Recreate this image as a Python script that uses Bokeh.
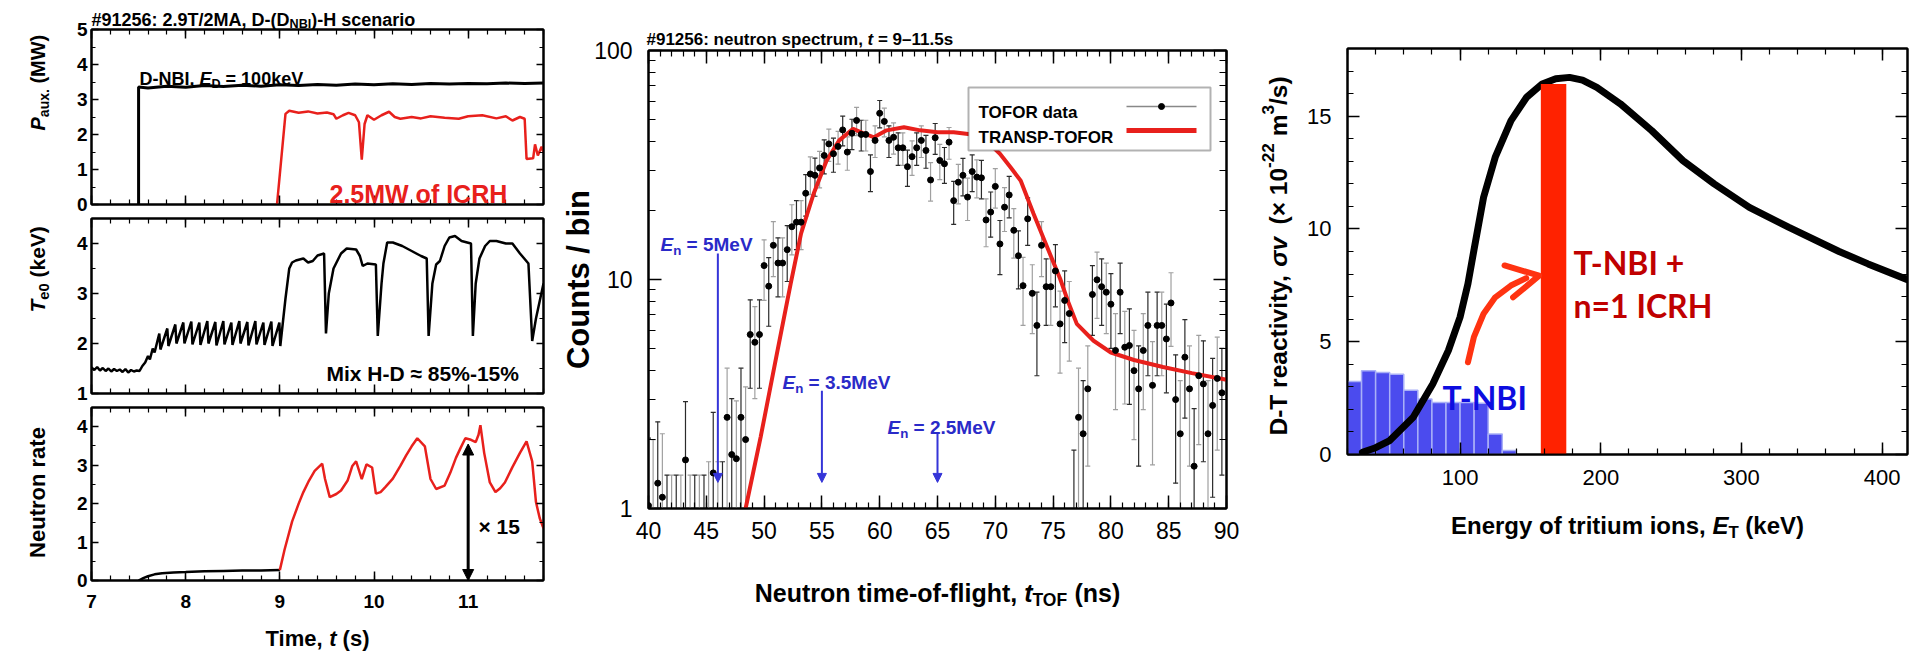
import math
from bokeh.plotting import figure
from bokeh.models import (LinearAxis, LogAxis, FixedTicker, Label, Range1d, Arrow,
                          NormalHead, BoxAnnotation, PrintfTickFormatter, GridBox,
                          CustomLabelingPolicy)
from bokeh.layouts import row, column
from bokeh.embed import file_html
from bokeh.resources import INLINE

# ----------------------------------------------------------------- data ----
# left column: auxiliary power, central Te, neutron rate versus time (s)
paux_nbi_t = [7.5, 7.5, 7.6, 7.8, 8.0, 8.2, 8.4, 8.6, 8.8, 9.0, 9.2, 9.4, 9.6, 9.8,
              10.0, 10.2, 10.4, 10.6, 10.8, 11.0, 11.2, 11.4, 11.6, 11.8]
paux_nbi = [0.0, 3.36, 3.33, 3.38, 3.35, 3.40, 3.37, 3.41, 3.38, 3.42, 3.40, 3.43, 3.41,
            3.44, 3.42, 3.45, 3.43, 3.46, 3.44, 3.46, 3.45, 3.47, 3.46, 3.47]
paux_icrh_t = [8.97, 9.06, 9.1, 9.2, 9.3, 9.4, 9.5, 9.57, 9.6, 9.67, 9.73, 9.8, 9.84,
               9.87, 9.9, 9.93, 10.0, 10.08, 10.16, 10.22, 10.28, 10.4, 10.5, 10.6,
               10.75, 10.9, 11.0, 11.15, 11.3, 11.4, 11.47, 11.55, 11.6, 11.62, 11.69,
               11.71, 11.74, 11.78, 11.8]
paux_icrh = [0.0, 2.59, 2.68, 2.62, 2.66, 2.6, 2.63, 2.58, 2.45, 2.55, 2.62, 2.55, 2.35,
             1.28, 2.3, 2.55, 2.42, 2.55, 2.65, 2.5, 2.45, 2.5, 2.46, 2.52, 2.48, 2.45,
             2.52, 2.55, 2.46, 2.52, 2.4, 2.5, 2.45, 1.3, 1.32, 1.72, 1.4, 1.65, 1.5]

te_t = [7.00, 7.03, 7.06, 7.09, 7.12, 7.15, 7.18, 7.21, 7.24, 7.27, 7.30, 7.33, 7.36,
        7.39, 7.42, 7.45, 7.48, 7.51, 7.54, 7.57, 7.60, 7.62, 7.65, 7.67, 7.70,
        7.72, 7.732, 7.805, 7.817, 7.89, 7.902, 7.975, 7.987, 8.06, 8.072, 8.145, 8.157,
        8.23, 8.242, 8.315, 8.327, 8.40, 8.412, 8.485, 8.497, 8.57, 8.582, 8.655, 8.667,
        8.74, 8.752, 8.825, 8.837, 8.91, 8.922, 8.995,
        9.005, 9.06, 9.10, 9.13, 9.17, 9.25, 9.30, 9.35, 9.40, 9.47, 9.49, 9.52, 9.57,
        9.65, 9.71, 9.81, 9.85, 9.88, 9.93, 10.02, 10.04, 10.08, 10.10, 10.14, 10.20,
        10.30, 10.40, 10.50, 10.56, 10.58, 10.62, 10.66, 10.70, 10.75, 10.80, 10.86,
        10.93, 11.03, 11.05, 11.08, 11.12, 11.18, 11.23, 11.30, 11.40, 11.47, 11.55,
        11.64, 11.68, 11.72, 11.80]
te_kev = [1.52, 1.47, 1.53, 1.46, 1.51, 1.45, 1.50, 1.44, 1.49, 1.45, 1.48, 1.43, 1.49,
          1.42, 1.47, 1.44, 1.46, 1.45, 1.55, 1.62, 1.75, 1.68, 1.90, 1.82, 2.05,
          2.20, 1.88, 2.30, 1.95, 2.38, 2.00, 2.42, 2.00, 2.44, 1.98, 2.42, 1.97,
          2.45, 2.00, 2.43, 1.96, 2.45, 1.98, 2.42, 1.97, 2.45, 2.00, 2.43, 1.96,
          2.45, 1.98, 2.42, 1.97, 2.44, 1.95, 2.42,
          1.95, 2.90, 3.50, 3.62, 3.66, 3.70, 3.62, 3.65, 3.76, 3.80, 2.20, 3.00, 3.50,
          3.80, 3.90, 3.88, 3.75, 3.55, 3.60, 3.58, 2.15, 3.20, 3.60, 4.02, 4.02,
          3.95, 3.85, 3.75, 3.70, 2.15, 3.20, 3.58, 3.65, 3.95, 4.12, 4.15,
          4.05, 4.00, 2.15, 3.20, 3.70, 3.95, 4.05, 4.05, 4.00, 4.00, 3.80,
          3.60, 2.05, 2.50, 3.20]

nr_dd_t = [7.5, 7.55, 7.6, 7.67, 7.75, 7.87, 8.0, 8.2, 8.4, 8.6, 8.8, 9.0]
nr_dd = [0.0, 0.06, 0.11, 0.16, 0.19, 0.21, 0.22, 0.24, 0.25, 0.26, 0.26, 0.27]
nr_icrh_t = [9.0, 9.05, 9.13, 9.2, 9.25, 9.31, 9.37, 9.45, 9.48, 9.53, 9.6, 9.65, 9.72,
             9.77, 9.81, 9.87, 9.92, 9.98, 10.02, 10.07, 10.12, 10.2, 10.28, 10.34,
             10.4, 10.46, 10.54, 10.6, 10.66, 10.75, 10.81, 10.87, 10.92, 10.97, 11.03,
             11.08, 11.11, 11.13, 11.17, 11.23, 11.29, 11.34, 11.39, 11.47, 11.55,
             11.62, 11.68, 11.72, 11.76, 11.8]
nr_icrh = [0.27, 0.8, 1.53, 2.0, 2.3, 2.6, 2.85, 3.04, 2.64, 2.17, 2.25, 2.34, 2.6, 2.98,
           3.1, 2.64, 3.02, 2.94, 2.26, 2.3, 2.43, 2.65, 2.98, 3.25, 3.49, 3.7, 3.49,
           2.64, 2.38, 2.47, 2.8, 3.19, 3.45, 3.7, 3.66, 3.6, 3.79, 4.04, 3.32, 2.55,
           2.3, 2.4, 2.55, 2.95, 3.32, 3.62, 3.1, 2.04, 1.62, 1.36]
gain_t = 11.0
gain_lo = 0.0
gain_hi = 3.55

# middle: TOFOR neutron time-of-flight spectrum
tof_ns = [40.0, 40.4, 40.8, 41.2, 41.6, 42.0, 42.4, 42.8, 43.2, 43.6,
          44.0, 44.4, 44.8, 45.2, 45.6, 46.0, 46.4, 46.8, 47.2, 47.6,
          48.0, 48.4, 48.8, 49.2, 49.6, 50.0, 50.4, 50.8, 51.2, 51.6,
          52.0, 52.4, 52.8, 53.2, 53.6, 54.0, 54.4, 54.8, 55.2, 55.6,
          56.0, 56.4, 56.8, 57.2, 57.6, 58.0, 58.4, 58.8, 59.2, 59.6,
          60.0, 60.4, 60.8, 61.2, 61.6, 62.0, 62.4, 62.8, 63.2, 63.6,
          64.0, 64.4, 64.8, 65.2, 65.6, 66.0, 66.4, 66.8, 67.2, 67.6,
          68.0, 68.4, 68.8, 69.2, 69.6, 70.0, 70.4, 70.8, 71.2, 71.6,
          72.0, 72.4, 72.8, 73.2, 73.6, 74.0, 74.4, 74.8, 75.2, 75.6,
          76.0, 76.4, 76.8, 77.2, 77.6, 78.0, 78.4, 78.8, 79.2, 79.6,
          80.0, 80.4, 80.8, 81.2, 81.6, 82.0, 82.4, 82.8, 83.2, 83.6,
          84.0, 84.4, 84.8, 85.2, 85.6, 86.0, 86.4, 86.8, 87.2, 87.6,
          88.0, 88.4, 88.8, 89.2, 89.6]
tof_counts = [1.03, 0.5, 1.29, 1.12, 0.5, 0.5, 0.5, 0.5, 1.63, 0.5,
              0.5, 0.5, 0.5, 0.6, 1.43, 0.6, 0.6, 2.5, 1.72, 1.65,
              2.5, 2.0, 5.75, 5.32, 5.75, 11.5, 9.35, 14.1, 11.8, 11.8,
              13.5, 17.0, 17.8, 17.8, 23.8, 28.9, 28.5, 30.7, 34.8, 39.1,
              35.4, 38.1, 45.0, 36.0, 43.5, 49.5, 43.0, 43.0, 29.6, 40.5,
              53.2, 49.0, 40.5, 41.8, 37.6, 37.6, 31.1, 34.4, 37.6, 40.5,
              36.6, 27.2, 41.6, 33.1, 32.0, 39.8, 22.1, 26.6, 28.5, 22.9,
              29.6, 28.0, 27.8, 18.2, 19.7, 25.5, 14.3, 20.7, 23.4, 16.4,
              12.7, 9.4, 18.4, 8.7, 6.3, 14.1, 9.3, 9.3, 10.9, 6.4,
              8.1, 7.1, 0.8, 2.5, 2.12, 3.33, 8.6, 9.97, 9.3, 8.8,
              7.8, 4.9, 8.8, 5.06, 5.15, 4.0, 3.33, 4.9, 6.3, 3.45,
              6.3, 6.3, 5.5, 7.9, 2.99, 2.12, 4.58, 3.33, 1.53, 3.8,
              3.5, 2.12, 2.82, 3.7, 3.2]
tof_err = [1.0, 1.5, 1.1, 1.0, 0.9, 0.9, 0.9, 0.9, 1.3, 0.9,
           0.9, 0.9, 0.9, 1.0, 1.2, 1.0, 1.0, 1.6, 1.3, 1.3,
           1.6, 1.4, 2.4, 2.3, 2.4, 3.4, 3.1, 3.8, 3.4, 3.4,
           3.7, 4.2, 4.3, 4.3, 4.9, 5.4, 5.4, 5.6, 5.9, 6.3,
           6.0, 6.2, 6.7, 6.0, 6.6, 7.0, 6.6, 6.6, 5.4, 6.4,
           7.3, 7.0, 6.4, 6.5, 6.1, 6.1, 5.6, 5.9, 6.1, 6.4,
           6.0, 5.2, 6.4, 5.8, 5.7, 6.3, 4.7, 5.2, 5.3, 4.8,
           5.4, 5.3, 5.3, 4.3, 4.4, 5.0, 3.8, 4.5, 4.8, 4.0,
           3.6, 3.1, 4.3, 2.9, 2.5, 3.8, 3.0, 3.0, 3.3, 2.5,
           2.8, 2.7, 1.0, 1.6, 1.5, 1.8, 2.9, 3.2, 3.0, 3.0,
           2.8, 2.2, 3.0, 2.2, 2.3, 2.0, 1.8, 2.2, 2.5, 1.9,
           2.5, 2.5, 2.3, 2.8, 1.7, 1.5, 2.1, 1.8, 1.2, 1.9,
           1.9, 1.5, 1.7, 1.9, 1.8]
transp_ns = [48.4, 49.7, 51.1, 52.3, 53.2, 54.3, 55.4, 56.5, 57.7, 58.6, 59.5, 60.6,
             62.1, 63.5, 65.0, 66.4, 68.0, 69.3, 70.4, 71.3, 72.2, 73.3, 74.5, 75.6,
             76.3, 77.05, 78.5, 80.0, 82.0, 84.5, 87.0, 90.0]
transp_counts = [1.0, 2.05, 4.72, 9.6, 15.9, 23.8, 33.0, 40.5, 45.5, 43.5, 41.8, 44.8,
                 46.2, 44.8, 44.0, 44.0, 43.0, 40.0, 35.4, 31.0, 27.0, 19.4, 13.8, 10.1,
                 8.0, 6.4, 5.4, 4.8, 4.45, 4.15, 3.9, 3.65]
en_labels = ["5MeV", "3.5MeV", "2.5MeV"]
en_tof = [46.0, 55.0, 65.0]
en_arrow_top = [13.0, 3.27, 2.13]
en_arrow_tip = [1.3, 1.3, 1.3]

# right: D-T reactivity versus tritium energy (keV)
react_E = [30.6, 40.0, 50.0, 66.7, 80.6, 91.7, 100.0, 105.6, 109.8, 116.7, 125.0, 136.2,
           147.3, 158.4, 168.0, 177.8, 187.0, 197.2, 213.9, 236.2, 258.4, 280.6, 305.6,
           333.4, 369.4, 390.0, 418.0]
react_sv = [0.1, 0.3, 0.62, 1.65, 3.13, 4.61, 6.09, 7.57, 9.04, 11.4, 13.18, 14.8,
            15.84, 16.43, 16.66, 16.72, 16.6, 16.28, 15.55, 14.36, 13.03, 12.0, 10.96,
            10.08, 9.0, 8.45, 7.75]
tnbi_left = [20, 30, 40, 50, 60, 70, 80, 90, 100, 110, 120, 130]
tnbi_right = [30, 40, 50, 60, 70, 80, 90, 100, 110, 120, 130, 140]
tnbi_height = [3.24, 3.71, 3.63, 3.56, 2.85, 2.46, 2.31, 2.31, 2.31, 2.27, 0.91, 0.18]
icrh_left = [157.4]
icrh_right = [175.5]
icrh_top = [16.43]
boost_path_E = [105.6, 109.8, 116.7, 125.0, 136.1, 147.0]
boost_path_sv = [4.09, 5.2, 6.24, 6.97, 7.49, 7.82]
boost_head_E = [131.6, 156.2, 137.7]
boost_head_sv = [8.38, 7.93, 6.97]

# --------------------------------------------------------------- helpers ----
FONT = "Liberation Sans"
_REG = {c: 556 for c in "0123456789"}
_REG.update({' ': 278, '#': 556, ':': 278, '.': 278, ',': 278, '-': 333, '–': 556,
             '/': 278, '(': 333, ')': 333, '=': 584, '×': 584, '%': 889, '≈': 584,
             '+': 584, 'σ': 570, 'A': 667, 'B': 667, 'C': 722, 'D': 722, 'E': 667,
             'F': 611, 'G': 778, 'H': 722, 'I': 278, 'K': 667, 'L': 556, 'M': 833,
             'N': 722, 'O': 778, 'P': 667, 'R': 722, 'S': 667, 'T': 611, 'U': 722,
             'V': 667, 'W': 944, 'a': 556, 'b': 556, 'c': 500, 'd': 556, 'e': 556,
             'f': 278, 'g': 556, 'h': 556, 'i': 222, 'k': 500, 'l': 222, 'm': 833,
             'n': 556, 'o': 556, 'p': 556, 'r': 333, 's': 500, 't': 278, 'u': 556,
             'v': 500, 'w': 722, 'x': 500, 'y': 500})
_BOLD = {c: 556 for c in "0123456789"}
_BOLD.update({' ': 278, '#': 556, ':': 333, '.': 278, ',': 278, '-': 333, '–': 556,
              '/': 278, '(': 333, ')': 333, '=': 584, '×': 584, '%': 889, '≈': 584,
              '+': 584, 'σ': 611, 'A': 722, 'B': 722, 'C': 722, 'D': 722, 'E': 667,
              'F': 611, 'G': 778, 'H': 722, 'I': 278, 'K': 722, 'L': 611, 'M': 833,
              'N': 722, 'O': 778, 'P': 667, 'R': 722, 'S': 667, 'T': 611, 'U': 722,
              'V': 667, 'W': 944, 'a': 556, 'b': 611, 'c': 556, 'd': 611, 'e': 556,
              'f': 333, 'g': 611, 'h': 611, 'i': 278, 'k': 556, 'l': 278, 'm': 889,
              'n': 611, 'o': 611, 'p': 611, 'r': 389, 's': 556, 't': 333, 'u': 611,
              'v': 556, 'w': 778, 'x': 556, 'y': 556})


def tw(s, size, bold=True):
    tab = _BOLD if bold else _REG
    return sum(tab.get(ch, 556) for ch in s) * size / 1000.0


class Frame:
    """maps page pixels to the data space of one figure"""
    def __init__(self, xr, pxr, yr, pyr, logy=False):
        self.xr, self.pxr, self.yr, self.pyr, self.logy = xr, pxr, yr, pyr, logy

    def X(self, px):
        (x0, x1), (p0, p1) = self.xr, self.pxr
        return x0 + (px - p0) * (x1 - x0) / (p1 - p0)

    def Y(self, py):
        (y0, y1), (p0, p1) = self.yr, self.pyr
        if self.logy:
            l0, l1 = math.log10(y0), math.log10(y1)
            return 10 ** (l0 + (py - p0) * (l1 - l0) / (p1 - p0))
        return y0 + (py - p0) * (y1 - y0) / (p1 - p0)


# transparent text layer spread over the whole page (page pixels as data)
ov = figure(width=1912, height=652, x_range=Range1d(0, 1912), y_range=Range1d(652, 0),
            toolbar_location=None, output_backend="svg", x_axis_location=None,
            y_axis_location=None, min_border=0, min_border_left=0, min_border_right=0,
            min_border_top=0, min_border_bottom=0, outline_line_color=None,
            background_fill_color=None, border_fill_color=None)
ov.xgrid.visible = False
ov.ygrid.visible = False


def text(px, py, s, size, color="black", bold=True, italic=False, font=FONT,
         align="left", angle=0.0):
    style = " ".join((["bold"] if bold else []) + (["italic"] if italic else [])) or "normal"
    ov.add_layout(Label(x=px, y=py, text=s, text_font=font,
                        text_font_size=f"{size:.1f}px", text_font_style=style,
                        text_color=color, text_align=align,
                        text_baseline="alphabetic", angle=angle))


def rich(px, py, parts, size, color="black", bold=True, angle=0.0, anchor="left",
         sub_shift=0.3):
    sizes = [size * 0.7 if k in ("sub", "sup") else size for _, k in parts]
    widths = [tw(s, fs, bold) for (s, _), fs in zip(parts, sizes)]
    cur = -sum(widths) / 2 if anchor == "center" else 0.0
    for (s, k), fs, w in zip(parts, sizes, widths):
        sh = sub_shift * size if k == "sub" else (-0.42 * size if k == "sup" else 0.0)
        body = s.lstrip(" ")
        lead = tw(s[:len(s) - len(body)], fs, bold)   # leading blanks are not rendered
        if angle == 0.0:
            x, y = px + cur + lead, py + sh
        else:
            x, y = px + sh, py - cur - lead
        text(x, y, body.rstrip(" "), fs, color, bold, k == "i", angle=angle)
        cur += w


HIDE = "for (const i of indices) indices.unset(i)"


def style_axis(ax, tin, tmin, ticks, minor, labels=None, standoff=0):
    ax.ticker = FixedTicker(ticks=ticks, minor_ticks=minor)
    ax.axis_line_width = 2
    ax.axis_line_color = "black"
    ax.major_tick_in = tin
    ax.major_tick_out = 0
    ax.minor_tick_in = tmin
    ax.minor_tick_out = 0
    ax.major_tick_line_width = 1.5
    ax.minor_tick_line_width = 1.2
    ax.major_tick_line_color = "black"
    ax.minor_tick_line_color = "black"
    ax.formatter = PrintfTickFormatter(format="%g")
    if labels is None:
        ax.major_label_text_font_size = "1px"
        ax.major_label_standoff = 0
        ax.major_label_policy = CustomLabelingPolicy(code=HIDE)
    else:
        size, bold = labels
        ax.major_label_text_font = FONT
        ax.major_label_text_font_size = f"{size}px"
        ax.major_label_text_font_style = "bold" if bold else "normal"
        ax.major_label_text_color = "black"
        ax.major_label_standoff = standoff


def make_fig(width, height, xr, yr, borders, logy=False):
    l, r, t, b = borders
    p = figure(width=width, height=height, x_range=xr, y_range=yr,
               y_axis_type="log" if logy else "linear", toolbar_location=None,
               output_backend="svg", min_border_left=l, min_border_right=r,
               min_border_top=t, min_border_bottom=b, background_fill_color="white",
               border_fill_color="white", outline_line_color="black",
               outline_line_width=2)
    p.xgrid.visible = False
    p.ygrid.visible = False
    return p


RED = "#E8201C"
BLUE_TXT = "#2A2AC8"

# ------------------------------------------------------------ left column ----
lx = Range1d(7.0, 11.8)
t_major = [7, 8, 9, 10, 11]
t_minor = [round(7 + 0.2 * i, 1) for i in range(25)]

f1 = make_fig(550, 214, lx, Range1d(0, 5), (91, 7, 29, 10))
f2 = make_fig(550, 189, lx, Range1d(1, 4.5), (91, 7, 1, 10))
f3 = make_fig(550, 249, lx, Range1d(0, 4.5), (91, 7, 0, 72))

for f, yt, ym in ((f1, [0, 1, 2, 3, 4, 5], [0.5 * i for i in range(11)]),
                  (f2, [1, 2, 3, 4], [1 + 0.5 * i for i in range(8)]),
                  (f3, [0, 1, 2, 3, 4], [0.5 * i for i in range(10)])):
    f.add_layout(LinearAxis(), "above")
    f.add_layout(LinearAxis(), "right")
    style_axis(f.left[0], 7, 4, yt, ym, labels=(19, True), standoff=4)
    style_axis(f.right[0], 7, 4, yt, ym)
    style_axis(f.above[0], 9, 5, t_major, t_minor)
    style_axis(f.below[0], 9, 5, t_major, t_minor,
               labels=(19, True) if f is f3 else None, standoff=14)

f1.line(paux_nbi_t, paux_nbi, line_color="black", line_width=3)
f1.line(paux_icrh_t, paux_icrh, line_color=RED, line_width=2.5)
f2.line(te_t, te_kev, line_color="black", line_width=2.5)
f3.line(nr_dd_t, nr_dd, line_color="black", line_width=2.5)
f3.line(nr_icrh_t, nr_icrh, line_color=RED, line_width=2.5)
f3.add_layout(Arrow(start=NormalHead(size=11, fill_color="black", line_color="black"),
                    end=NormalHead(size=11, fill_color="black", line_color="black"),
                    x_start=gain_t, y_start=gain_lo, x_end=gain_t, y_end=gain_hi,
                    line_color="black", line_width=3))

rich(91, 19, [("#91256: 2.9T/2MA, D-(D", "n"), ("NBI", "sub"), (")-H scenario", "n")], 18,
     sub_shift=0.25)
rich(139, 78, [("D-NBI, ", "n"), ("E", "i"), ("D", "sub"), (" = 100keV", "n")], 18)
text(329, 193, "2.5MW of ICRH", 25, color=RED)
rich(37, 130, [("P", "i"), ("aux.", "sub"), (" (MW)", "n")], 20, angle=math.pi / 2)
rich(37, 312, [("T", "i"), ("e0", "sub"), (" (keV)", "n")], 21, angle=math.pi / 2)
text(326, 373, "Mix H-D ≈ 85%-15%", 21)
text(37, 492, "Neutron rate", 22, align="center", angle=math.pi / 2)
text(478, 526, "× 15", 21)
rich(317, 638, [("Time, ", "n"), ("t", "i"), (" (s)", "n")], 22, anchor="center")

# ---------------------------------------------------------- middle panel ----
fm = make_fig(705, 652, Range1d(40, 90), Range1d(1, 100), (98, 29, 50, 144), logy=True)
FM = Frame((40, 90), (648, 1226), (1, 100), (508, 50), logy=True)
fm.add_layout(LinearAxis(), "above")
fm.add_layout(LogAxis(), "right")
x_major = [40, 45, 50, 55, 60, 65, 70, 75, 80, 85, 90]
x_minor = list(range(40, 91))
y_major = [1, 10, 100]
y_minor = [2, 3, 4, 5, 6, 7, 8, 9, 20, 30, 40, 50, 60, 70, 80, 90]
style_axis(fm.below[0], 13, 6, x_major, x_minor, labels=(23, False), standoff=13)
style_axis(fm.above[0], 13, 6, x_major, x_minor)
style_axis(fm.left[0], 13, 7, y_major, y_minor, labels=(23, False), standoff=16)
style_axis(fm.right[0], 13, 7, y_major, y_minor)

lo = [max(v - e, 0.2) for v, e in zip(tof_counts, tof_err)]
hi = [v + e for v, e in zip(tof_counts, tof_err)]
for parity, col in ((0, "#2b2b2b"), (1, "#a0a0a0")):
    idx = [i for i in range(len(tof_ns)) if i % 2 == parity]
    xs = [tof_ns[i] for i in idx]
    fm.segment(x0=xs, y0=[lo[i] for i in idx], x1=xs, y1=[hi[i] for i in idx],
               line_color=col, line_width=1.2)
    fm.scatter(xs, [hi[i] for i in idx], marker="dash", size=5, line_color=col, line_width=1.2)
    fm.scatter(xs, [lo[i] for i in idx], marker="dash", size=5, line_color=col, line_width=1.2)
fm.line(transp_ns, transp_counts, line_color=RED, line_width=4)
fm.scatter(tof_ns, tof_counts, marker="circle", size=6, fill_color="black", line_color="black")

for x, ytop, ytip in zip(en_tof, en_arrow_top, en_arrow_tip):
    fm.add_layout(Arrow(end=NormalHead(size=9, fill_color="#3535D8", line_color="#3535D8"),
                        x_start=x, y_start=ytop, x_end=x, y_end=ytip,
                        line_color="#3535D8", line_width=2))
for lab, (px, py) in zip(en_labels, ((660, 244), (782, 382), (887, 427))):
    rich(px, py, [("E", "i"), ("n", "sub"), (" = " + lab, "n")], 19, color=BLUE_TXT)

# legend
fm.add_layout(BoxAnnotation(left=FM.X(968), right=FM.X(1210), top=FM.Y(87), bottom=FM.Y(150),
                            fill_color="white", fill_alpha=1.0, line_color="black",
                            line_width=2))
fm.line([FM.X(1126), FM.X(1196)], [FM.Y(106)] * 2, line_color="#888888", line_width=1.5,
        level="overlay")
fm.scatter([FM.X(1161)], [FM.Y(106)], marker="circle", size=6, fill_color="black",
           line_color="black", level="overlay")
fm.line([FM.X(1126), FM.X(1196)], [FM.Y(130)] * 2, line_color=RED, line_width=5,
        level="overlay")
text(978, 112, "TOFOR data", 17)
text(978, 137, "TRANSP-TOFOR", 17)

rich(646, 39, [("#91256: neutron spectrum, ", "n"), ("t", "i"), (" = 9–11.5s", "n")], 17)
rich(937, 592, [("Neutron time-of-flight, ", "n"), ("t", "i"), ("TOF", "sub"),
                (" (ns)", "n")], 25, anchor="center")
text(578, 279, "Counts / bin", 31, align="center", angle=math.pi / 2)

# ----------------------------------------------------------- right panel ----
fr = make_fig(657, 652, Range1d(20, 418), Range1d(0, 18), (92, 5, 48, 198))
fr.add_layout(LinearAxis(), "above")
fr.add_layout(LinearAxis(), "right")
e_major = [100, 200, 300, 400]
e_minor = list(range(20, 421, 20))
s_major = [0, 5, 10, 15]
s_minor = list(range(0, 19))
style_axis(fr.below[0], 12, 6, e_major, e_minor, labels=(22, False), standoff=15)
style_axis(fr.above[0], 12, 6, e_major, e_minor)
style_axis(fr.left[0], 12, 6, s_major, s_minor, labels=(22, False), standoff=16)
style_axis(fr.right[0], 12, 6, s_major, s_minor)

fr.quad(left=tnbi_left, right=tnbi_right, bottom=0, top=tnbi_height,
        fill_color="#4B4BEE", line_color="#A9B0F7", line_width=1.5)
fr.line(react_E, react_sv, line_color="black", line_width=7, line_cap="round")
fr.quad(left=icrh_left, right=icrh_right, bottom=0, top=icrh_top,
        fill_color="#FF2200", line_color=None)
fr.line(boost_path_E, boost_path_sv, line_color="#FF3311", line_width=6, line_cap="round")
fr.line(boost_head_E, boost_head_sv, line_color="#FF3311", line_width=6, line_cap="round",
        line_join="round")

text(1442, 397, "T-NBI", 32, color="#0D0DE0", font="Lato")
text(1573, 262, "T-NBI +", 32, color="#C00000", font="Lato")
text(1573, 305, "n=1 ICRH", 32, color="#C00000", font="Lato")
rich(1278, 435, [("D-T reactivity, ", "n"), ("σv", "i"), ("  (× 10", "n"), ("-22", "sup"),
                 (" m", "n"), ("3", "sup"), ("/s)", "n")], 24.5, angle=math.pi / 2)
rich(1627, 525, [("Energy of tritium ions, ", "n"), ("E", "i"), ("T", "sub"),
                 (" (keV)", "n")], 24, anchor="center")

main = row(column(f1, f2, f3), column(fm), column(fr))
root = GridBox(children=[(main, 0, 0), (ov, 0, 0)])
open("out.html", "w").write(file_html(root, INLINE))
